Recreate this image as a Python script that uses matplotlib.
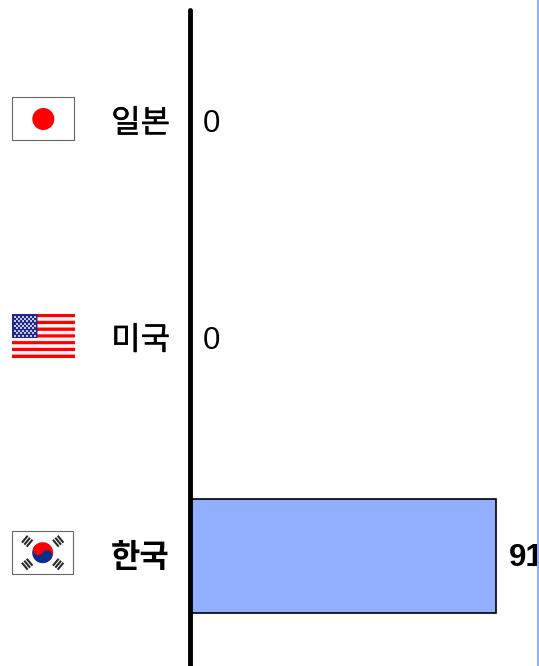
import numpy as np
import matplotlib
matplotlib.use("Agg")
import matplotlib.pyplot as plt
import matplotlib.patheffects as pe
from matplotlib.patches import Rectangle, Circle, Wedge

# dados do gráfico
paises = ["일본", "미국", "한국"]
valores = [0, 0, 91]
rotulos = ["0", "0", "91"]

W, H = 539, 666
PX_POR_UNIDADE = 306 / 91   # escala do eixo x
AZUL = "#91aeff"
PT = 72 / 100               # 1 pixel em pontos

fig = plt.figure(figsize=(W / 100, H / 100), dpi=100, facecolor="white")


# transforma caixa em pixels (origem em cima) para coordenadas da figura
def caixa(x0, y0, x1, y1):
    return [x0 / W, 1 - y1 / H, (x1 - x0) / W, (y1 - y0) / H]


# eixo principal: o zero fica em x=190 px, y vai de 10 até o fim da imagem
ax = fig.add_axes(caixa(190, 10, 539, 666))
ax.set_facecolor("white")
ax.set_xlim(0, 349 / PX_POR_UNIDADE)
# categorias 217 px uma da outra, a primeira centrada em y=122
ax.set_ylim((666 - 122) / 217, (10 - 122) / 217)
y = np.arange(len(paises))
for i, v in zip(y, valores):
    if v > 0:
        ax.barh(i, v, height=114 / 217, color=AZUL, edgecolor="black",
                linewidth=1.2, zorder=2)

for s in ["top", "right", "bottom"]:
    ax.spines[s].set_visible(False)
ax.spines["left"].set_linewidth(3.5)
ax.spines["left"].set_capstyle("round")
ax.spines["left"].set_zorder(3)
ax.set_xticks([])
ax.set_yticks([])

# rótulos dos valores (o "91" é cortado pela borda, como no original)
for i, (v, r) in enumerate(zip(valores, rotulos)):
    ax.annotate(r, (v, i), xytext=(13 * PT, -2 * PT),
                textcoords="offset points", va="center", ha="left",
                family="Liberation Sans", fontsize=22.5,
                fontweight="bold" if v == max(valores) else "normal",
                annotation_clip=False, clip_on=True)

# camada em pixels para nomes, bandeiras e a linha azul
top = fig.add_axes([0, 0, 1, 1], facecolor="none")
top.set_xlim(0, W)
top.set_ylim(H, 0)
top.axis("off")

top.add_patch(Rectangle((537, 0), 2, H, color=AZUL, lw=0, zorder=5))

for i, p in enumerate(paises):
    cy = 122 + 217 * i
    negrito = valores[i] == max(valores)
    t = top.text(170, cy + 1.5, p, ha="right", va="center",
                 family="Noto Sans CJK KR", fontsize=23,
                 fontweight="bold" if negrito else "normal")
    if not negrito:
        t.set_path_effects([pe.withStroke(linewidth=0.3, foreground="black")])

# Japão
top.add_patch(Rectangle((12.5, 97.5), 62, 43, fc="white", ec="#666666", lw=0.8, snap=False))
top.add_patch(Circle((43.3, 119), 11, fc="#ff0000", lw=0))

# EUA
x0, y0, fw, fh = 12, 314, 63, 44
for k in range(13):
    top.add_patch(Rectangle((x0, y0 + k * fh / 13), fw, fh / 13,
                            fc="#ff0000" if k % 2 == 0 else "#fff4f4", lw=0, snap=False))
top.add_patch(Rectangle((x0, y0), 25.5, 24, fc="#1f2a8c", lw=0, snap=False))
ex, ey = np.meshgrid(np.linspace(x0 + 2.5, x0 + 23, 6), np.linspace(y0 + 2.5, y0 + 21.5, 5))
top.scatter(ex.ravel(), ey.ravel(), s=1.4, c="#c4c8e8", lw=0, marker="s", zorder=4)
ex, ey = np.meshgrid(np.linspace(x0 + 4.5, x0 + 21, 5), np.linspace(y0 + 4.9, y0 + 19.1, 4))
top.scatter(ex.ravel(), ey.ravel(), s=1.4, c="#c4c8e8", lw=0, marker="s", zorder=4)

# Coreia
cx, cy = 42.7, 552.7
top.add_patch(Rectangle((12.5, 531.5), 61, 43, fc="white", ec="#666666", lw=0.8, snap=False))
R = 10.5
inc = 33
top.add_patch(Wedge((cx, cy), R, 180 + inc, 360 + inc, fc="#ff0000", lw=0))
top.add_patch(Wedge((cx, cy), R, inc, 180 + inc, fc="#0a2f8f", lw=0))
dx, dy = R / 2 * np.cos(np.radians(inc)), R / 2 * np.sin(np.radians(inc))
top.add_patch(Circle((cx - dx, cy - dy), R / 2, fc="#ff0000", lw=0))
top.add_patch(Circle((cx + dx, cy + dy), R / 2, fc="#0a2f8f", lw=0))
for sx, sy in [(-1, -1), (1, -1), (-1, 1), (1, 1)]:
    ang = -50 * sx * sy
    px, py = cx + sx * 15.5, cy + sy * 11.5
    u = np.array([np.cos(np.radians(ang)), np.sin(np.radians(ang))])
    n = np.array([-u[1], u[0]])
    for off in (-3.1, 0, 3.1):
        a = np.array([px, py]) + n * off - u * 4.5
        b = np.array([px, py]) + n * off + u * 4.5
        top.plot([a[0], b[0]], [a[1], b[1]], color="#2a2a2a", lw=1.5, solid_capstyle="butt")

top.set_xlim(0, W)
top.set_ylim(H, 0)

fig.savefig("out.png", dpi=100)
